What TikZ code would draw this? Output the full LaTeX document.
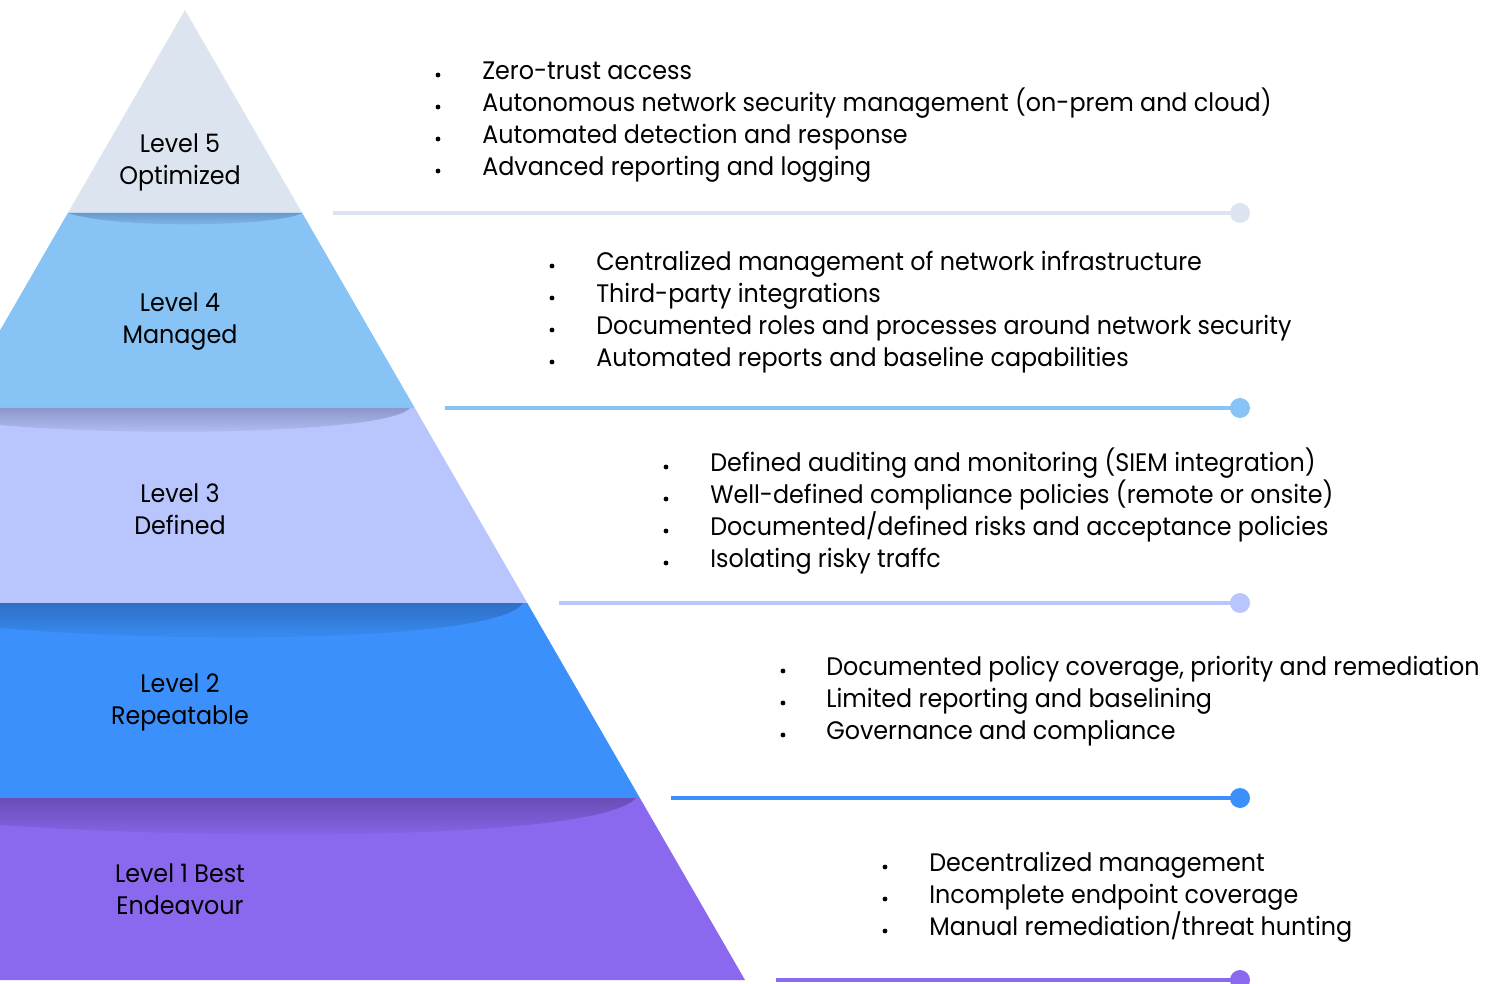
\documentclass[tikz,border=0pt]{standalone}
\usepackage{fontspec}
\setmainfont{Poppins}[FakeStretch=0.94]
\begin{document}
\begin{tikzpicture}[x=0.75pt,y=-0.75pt,
  lbl/.style={align=center,font=\fontsize{19}{24}\selectfont,inner sep=0pt},
  item/.style={anchor=base west,font=\fontsize{19}{24}\selectfont,inner sep=0pt},
  bul/.style={circle,fill=black,inner sep=0pt,minimum size=3.6pt},
  dotc/.style={circle,inner sep=0pt,minimum size=15pt},
  conn/.style={line width=2.5pt}]
\definecolor{cfive}{HTML}{DCE5EF}
\definecolor{cfour}{HTML}{87C3F5}
\definecolor{cthree}{HTML}{B8C6FD}
\definecolor{ctwo}{HTML}{3B90FB}
\definecolor{cone}{HTML}{8B69EE}
\definecolor{sfour}{HTML}{6A9ACB}
\definecolor{sthree}{HTML}{8D97C9}
\definecolor{stwo}{HTML}{2E70C6}
\definecolor{sone}{HTML}{6A4DB6}
\useasboundingbox (0,0) rectangle (1504,984);
\begin{scope}
\clip (0,0) rectangle (1504,984);
% bands
\fill[cfive] (185,10) -- (302.2,213) -- (67.8,213) -- cycle;
\fill[cfour] (67.8,213) -- (302.2,213) -- (414.8,408) -- (-44.8,408) -- cycle;
\fill[cthree] (-44.8,408) -- (414.8,408) -- (527.3,603) -- (-157.3,603) -- cycle;
\fill[ctwo] (-157.3,603) -- (527.3,603) -- (639.9,798) -- (-269.9,798) -- cycle;
\fill[cone] (-269.9,798) -- (639.9,798) -- (745,980) -- (-375,980) -- cycle;
% shadows
\shade[top color=sfour,bottom color=cfour] (68,213) -- (302,213) .. controls (280,226) and (120,230) .. (68,213) -- cycle;
\shade[top color=sthree,bottom color=cthree] (0,408) -- (410,408) .. controls (390,432) and (150,438) .. (0,425) -- cycle;
\shade[top color=stwo,bottom color=ctwo] (0,603) -- (523,603) .. controls (500,640) and (200,645) .. (0,628) -- cycle;
\shade[top color=sone,bottom color=cone] (0,798) -- (636,798) .. controls (600,838) and (250,842) .. (0,825) -- cycle;
\end{scope}
% level labels
\node[lbl] (l5) at (180,162) {Level 5\\Optimized};
\node[lbl] (l4) at (180,322) {Level 4\\Managed};
\node[lbl] (l3) at (180,509) {Level 3\\Defined};
\node[lbl] (l2) at (180,702) {Level 2\\Repeatable};
\node[lbl] (l1) at (180,889) {Level 1 Best\\Endeavour};
% connectors
\node[dotc,fill=cfive] (d5) at (1240,213) {};
\node[dotc,fill=cfour] (d4) at (1240,408) {};
\node[dotc,fill=cthree] (d3) at (1240,603) {};
\node[dotc,fill=ctwo] (d2) at (1240,798) {};
\node[dotc,fill=cone] (d1) at (1240,980) {};
\coordinate (s5) at (333,213);
\coordinate (s4) at (445,408);
\coordinate (s3) at (559,603);
\coordinate (s2) at (671,798);
\coordinate (s1) at (776,980);
\draw[conn,cfive] (s5) -- (d5.center);
\draw[conn,cfour] (s4) -- (d4.center);
\draw[conn,cthree] (s3) -- (d3.center);
\draw[conn,ctwo] (s2) -- (d2.center);
\draw[conn,cone] (s1) -- (d1.center);
% level 5 items
\foreach \y/\t [count=\i] in {70/{Zero-trust access},102/{Autonomous network security management (on-prem and cloud)},134/{Automated detection and response},166/{Advanced reporting and logging}}{
  \node[bul] (b5\i) at (438,\y+5) {};
  \node[item] (t5\i) at (482,\y+9.5) {\t};
}
\foreach \y/\t [count=\i] in {261/{Centralized management of network infrastructure},293/{Third-party integrations},325/{Documented roles and processes around network security},357/{Automated reports and baseline capabilities}}{
  \node[bul] (b4\i) at (552,\y+5) {};
  \node[item] (t4\i) at (596,\y+9.5) {\t};
}
\foreach \y/\t [count=\i] in {462/{Defined auditing and monitoring (SIEM integration)},494/{Well-defined compliance policies (remote or onsite)},526/{Documented/defined risks and acceptance policies},558/{Isolating risky traffc}}{
  \node[bul] (b3\i) at (666,\y+5) {};
  \node[item] (t3\i) at (710,\y+9.5) {\t};
}
\foreach \y/\t [count=\i] in {666/{Documented policy coverage, priority and remediation},698/{Limited reporting and baselining},730/{Governance and compliance}}{
  \node[bul] (b2\i) at (783,\y+5) {};
  \node[item] (t2\i) at (826,\y+9.5) {\t};
}
\foreach \y/\t [count=\i] in {862/{Decentralized management},894/{Incomplete endpoint coverage},926/{Manual remediation/threat hunting}}{
  \node[bul] (b1\i) at (885,\y+5) {};
  \node[item] (t1\i) at (929,\y+9.5) {\t};
}
\end{tikzpicture}
\end{document}
